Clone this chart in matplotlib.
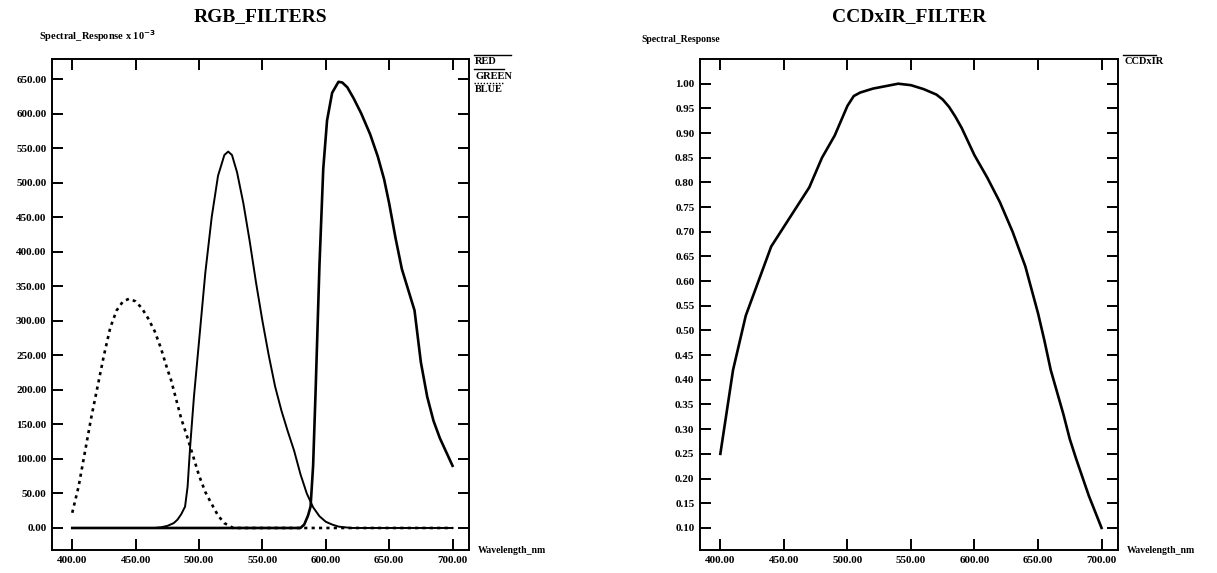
import numpy as np
import matplotlib
matplotlib.use("Agg")
import matplotlib.pyplot as plt
from matplotlib.lines import Line2D

plt.rcParams['font.family'] = ['Liberation Serif', 'DejaVu Serif']
plt.rcParams['font.weight'] = 'bold'

# RGB filters (values x 1e-3)
blue_nm = [400, 405, 410, 415, 420, 425, 430, 435, 440, 445, 450, 455, 460, 465, 470,
           475, 478, 482, 486, 490, 493, 497, 500, 505, 509, 515, 520, 527, 540, 580, 600, 700]
blue_val = [22, 60, 110, 160, 205, 250, 290, 315, 328, 332, 328, 318, 303, 285, 260,
            230, 214, 186, 158, 136, 118, 94, 76, 52, 38, 18, 7, 0, 0, 0, 0, 0]

green_nm = [400, 465, 470, 475, 480, 483, 486, 489, 491, 493, 496, 500, 505, 510, 515,
            520, 523, 526, 530, 535, 540, 545, 550, 555, 560, 565, 570, 575, 580, 585,
            590, 595, 600, 605, 610, 615, 620, 700]
green_val = [0, 0, 1, 3, 7, 12, 20, 31, 60, 118, 190, 270, 370, 450, 510,
             540, 545, 540, 515, 470, 415, 355, 300, 250, 205, 170, 140, 112, 78, 50,
             30, 17, 9, 5, 2, 1, 0, 0]

red_nm = [400, 580, 583, 586, 588, 590, 592, 595, 598, 601, 605, 610, 613, 617, 622,
          628, 635, 641, 646, 650, 655, 660, 665, 670, 675, 680, 685, 690, 695, 700]
red_val = [0, 0, 5, 18, 31, 90, 200, 380, 520, 590, 630, 646, 645, 638, 622,
           600, 570, 538, 505, 470, 420, 375, 345, 315, 240, 190, 155, 130, 110, 90]

# CCD x IR filter
ccd_nm = [400, 410, 420, 430, 440, 450, 460, 470, 480, 490, 495, 500, 505, 510, 520,
          530, 540, 550, 560, 570, 575, 580, 585, 590, 600, 610, 620, 630, 640, 650,
          655, 660, 670, 675, 680, 690, 700]
ccd_val = [0.25, 0.42, 0.53, 0.60, 0.67, 0.71, 0.75, 0.79, 0.85, 0.895, 0.925, 0.955, 0.975, 0.982, 0.99,
           0.995, 1.0, 0.997, 0.989, 0.978, 0.968, 0.953, 0.933, 0.91, 0.855, 0.81, 0.76, 0.70, 0.63, 0.535,
           0.48, 0.42, 0.33, 0.28, 0.24, 0.165, 0.10]

x_ticks = [400, 450, 500, 550, 600, 650, 700]
rgb_ticks = np.arange(0, 651, 50)
ccd_ticks = np.arange(0.10, 1.001, 0.05)

fig = plt.figure(figsize=(12.17, 5.73), dpi=100)
ax1 = fig.add_axes([0.0427, 0.040, 0.3427, 0.857])
ax2 = fig.add_axes([0.5752, 0.040, 0.3435, 0.857])


def style(ax, yticks, fmt):
    ax.set_xlim(384, 713)
    ax.set_xticks(x_ticks)
    ax.set_xticklabels(['%.2f' % v for v in x_ticks])
    ax.set_yticks(yticks)
    ax.set_yticklabels([fmt % v for v in yticks])
    ax.tick_params(direction='in', top=True, right=True, length=8, width=1.4,
                   labelsize=8, pad=4)
    for s in ax.spines.values():
        s.set_linewidth(1.4)
    for lab in ax.get_xticklabels() + ax.get_yticklabels():
        lab.set_fontweight('bold')


def legend_entry(ax, name, ls, yy, x1):
    ax.text(1.015, yy, name, transform=ax.transAxes, fontsize=7.5, fontweight='bold',
            ha='left', va='center')
    ax.add_line(Line2D([1.013, x1], [yy + 0.014, yy + 0.014], transform=ax.transAxes,
                       color='black', lw=1.0, ls=ls, clip_on=False))


# left panel
ax1.plot(red_nm, red_val, color='black', lw=1.9)
ax1.plot(green_nm, green_val, color='black', lw=1.4)
ax1.plot(blue_nm, blue_val, color='black', lw=1.9, linestyle=(0, (1.2, 1.6)))
ax1.set_ylim(-32, 679)
style(ax1, rgb_ticks, '%.2f')
ax1.set_title('RGB_FILTERS', fontsize=14, fontweight='bold', pad=27)
ax1.text(-0.03, 1.03, r'Spectral_Response x 10$^{\mathbf{-3}}$', transform=ax1.transAxes,
         fontsize=7.5, fontweight='bold', ha='left', va='bottom')
ax1.text(1.02, 0.0, 'Wavelength_nm', transform=ax1.transAxes, fontsize=7,
         fontweight='bold', ha='left', va='center')

# legend entries drawn outside the right edge
leg_names = ['RED', 'GREEN', 'BLUE']
leg_styles = ['-', '-', (0, (1, 1.2))]
leg_y = [0.994, 0.965, 0.937]
leg_end = [1.10, 1.085, 1.085]
for name, ls, yy, x1 in zip(leg_names, leg_styles, leg_y, leg_end):
    legend_entry(ax1, name, ls, yy, x1)

# right panel
ax2.plot(ccd_nm, ccd_val, color='black', lw=1.9)
ax2.set_ylim(0.055, 1.05)
style(ax2, ccd_ticks, '%.2f')
ax2.set_title('CCDxIR_FILTER', fontsize=14, fontweight='bold', pad=27)
ax2.text(-0.14, 1.03, 'Spectral_Response', transform=ax2.transAxes,
         fontsize=7, fontweight='bold', ha='left', va='bottom')
ax2.text(1.02, 0.0, 'Wavelength_nm', transform=ax2.transAxes, fontsize=7,
         fontweight='bold', ha='left', va='center')
legend_entry(ax2, 'CCDxIR', '-', 0.994, 1.09)

fig.savefig('out.png', dpi=100)
